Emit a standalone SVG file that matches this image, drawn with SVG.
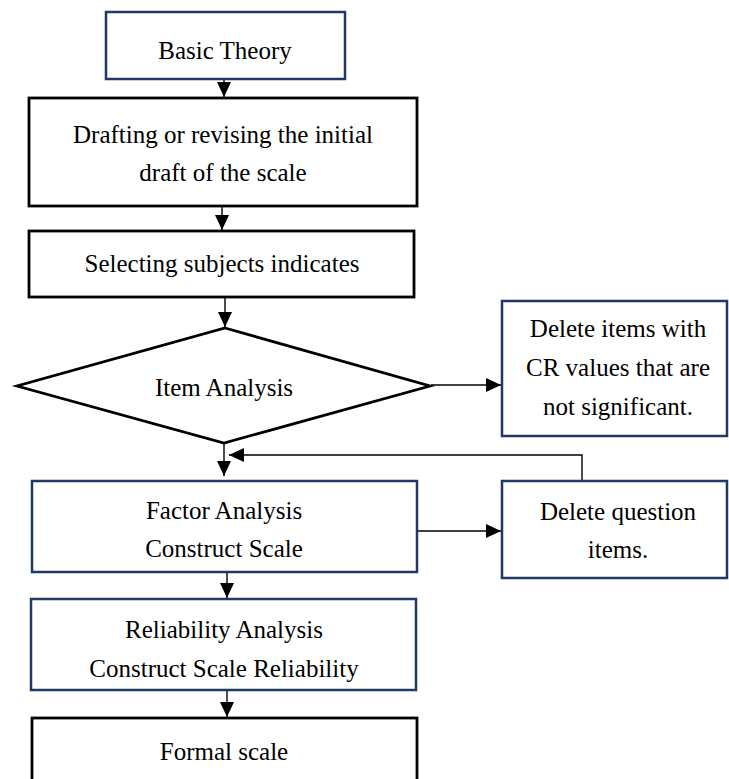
<svg xmlns="http://www.w3.org/2000/svg" width="729" height="779" viewBox="0 0 729 779">
<style>
  .navy { fill: #ffffff; stroke: #1f3864; stroke-width: 2.5; }
  .blk { fill: #ffffff; stroke: #000000; stroke-width: 2.8; }
  .t { font-family: "Liberation Serif", "Times New Roman", serif; font-size: 25px; fill: #000000; text-anchor: middle; }
  .c { fill: none; stroke: #000000; stroke-width: 1.4; }
</style>
<defs>
  <marker id="ah" viewBox="0 0 15 14" markerUnits="userSpaceOnUse" markerWidth="15" markerHeight="14" refX="15" refY="7" orient="auto">
    <path d="M0,0 L15,7 L0,14 z" fill="#000000"/>
  </marker>
</defs>
<rect width="729" height="779" fill="#ffffff"/>
<g id="connectors">
  <line class="c" x1="224" y1="80" x2="224" y2="97" marker-end="url(#ah)"/>
  <line class="c" x1="222" y1="207" x2="222" y2="230" marker-end="url(#ah)"/>
  <line class="c" x1="225" y1="298" x2="225" y2="327" marker-end="url(#ah)"/>
  <line class="c" x1="431" y1="385" x2="501" y2="385" marker-end="url(#ah)"/>
  <line class="c" x1="224" y1="444" x2="224" y2="476" marker-end="url(#ah)"/>
  <polyline class="c" points="582,480 582,455 229,455" marker-end="url(#ah)"/>
  <line class="c" x1="418" y1="531" x2="501" y2="531" marker-end="url(#ah)"/>
  <line class="c" x1="227" y1="573" x2="227" y2="598" marker-end="url(#ah)"/>
  <line class="c" x1="227" y1="691" x2="227" y2="717" marker-end="url(#ah)"/>
</g>
<g id="basic-theory">
  <rect class="navy" x="106" y="12" width="239" height="67"/>
  <text class="t" x="225" y="59">Basic Theory</text>
</g>
<g id="drafting">
  <rect class="blk" x="29" y="98" width="388" height="108"/>
  <text class="t" x="223" y="143">Drafting or revising the initial</text>
  <text class="t" x="223" y="181">draft of the scale</text>
</g>
<g id="selecting">
  <rect class="blk" x="29" y="231" width="385" height="66"/>
  <text class="t" x="222" y="272">Selecting subjects indicates</text>
</g>
<g id="item-analysis">
  <polygon class="blk" points="225,328 430,386 224,443 17,386"/>
  <text class="t" x="224" y="396">Item Analysis</text>
</g>
<g id="delete-cr">
  <rect class="navy" x="502" y="301" width="225" height="135"/>
  <text class="t" x="618" y="337">Delete items with</text>
  <text class="t" x="618" y="376">CR values that are</text>
  <text class="t" x="618" y="415">not significant.</text>
</g>
<g id="factor-analysis">
  <rect class="navy" x="32" y="481" width="385" height="91"/>
  <text class="t" x="224" y="519">Factor Analysis</text>
  <text class="t" x="224" y="557">Construct Scale</text>
</g>
<g id="delete-question">
  <rect class="navy" x="502" y="481" width="225" height="97"/>
  <text class="t" x="618" y="520">Delete question</text>
  <text class="t" x="618" y="558">items.</text>
</g>
<g id="reliability">
  <rect class="navy" x="31" y="599" width="385" height="91"/>
  <text class="t" x="224" y="638">Reliability Analysis</text>
  <text class="t" x="224" y="677">Construct Scale Reliability</text>
</g>
<g id="formal-scale">
  <rect class="blk" x="32" y="718" width="385" height="80"/>
  <text class="t" x="224" y="760">Formal scale</text>
</g>
</svg>
